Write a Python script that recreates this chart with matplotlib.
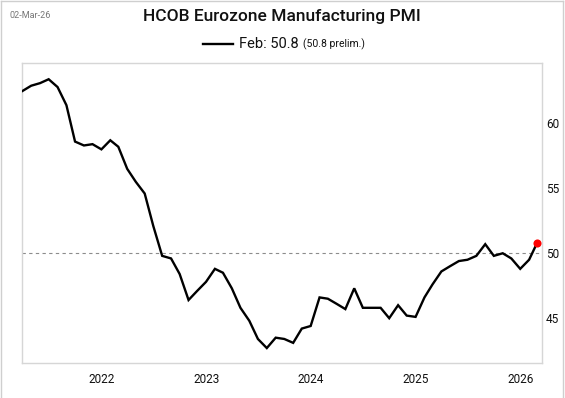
import numpy as np
import pandas as pd
import matplotlib
matplotlib.use("Agg")
from matplotlib import pyplot as plt
from matplotlib.lines import Line2D
import matplotlib.dates as mdates

# monthly PMI, Mar 2021 .. Feb 2026
pmi = [62.5, 62.9, 63.1, 63.4, 62.8, 61.4, 58.6, 58.3, 58.4, 58.0,
       58.7, 58.2, 56.5, 55.5, 54.6, 52.1, 49.8, 49.6, 48.4, 46.4, 47.1, 47.8,
       48.8, 48.5, 47.3, 45.8, 44.8, 43.4, 42.7, 43.5, 43.4, 43.1, 44.2, 44.4,
       46.6, 46.5, 46.1, 45.7, 47.3, 45.8, 45.8, 45.8, 45.0, 46.0, 45.2, 45.1,
       46.6, 47.6, 48.6, 49.0, 49.4, 49.5, 49.8, 50.7, 49.8, 50.0, 49.6, 48.8,
       49.5, 50.8]
dates = pd.date_range("2021-03-31", periods=len(pmi), freq="ME")
years = [2022, 2023, 2024, 2025, 2026]
yticks = [45, 50, 55, 60]
title = "HCOB Eurozone Manufacturing PMI"
stamp = "02-Mar-26"
prelim = 50.8

plt.rcParams['font.family'] = ['Roboto', 'DejaVu Sans']

fig = plt.figure(figsize=(5.65, 3.98), dpi=100)
ax = fig.add_axes([22/565, 35/398, 520/565, 300/398])

ax.plot(dates, pmi, color='black', lw=1.7, solid_joinstyle='miter', zorder=3)
ax.scatter([dates[-1]], [pmi[-1]], s=34, color='#ff0000', zorder=4, linewidths=0)
ax.axhline(50, color='#8c8c8c', lw=0.8, ls=(0, (3, 3)), zorder=1)

ax.set_xlim(pd.Timestamp("2021-03-29"), pd.Timestamp("2026-03-17"))
ax.set_ylim(41.55, 64.65)
ax.set_xticks([pd.Timestamp(f"{y}-01-01") for y in years])
ax.xaxis.set_major_formatter(mdates.DateFormatter("%Y"))
ax.set_yticks(yticks)
ax.yaxis.tick_right()
ax.tick_params(axis='both', length=0, labelsize=8.5, colors='#111111')
ax.tick_params(axis='x', pad=7)
ax.tick_params(axis='y', pad=3)
for s in ax.spines.values():
    s.set_color('#d6d6d6')
    s.set_linewidth(1.0)

# header
fig.text(282/565, 1 - 16/398, title, ha='center', va='center',
         fontsize=12.5, fontweight='medium', color='#111111')
fig.text(10/565, 1 - 15/398, stamp, ha='left', va='center', fontsize=6.5, color='#777777')

# legend
fig.add_artist(Line2D([203/565, 233/565], [1 - 44/398, 1 - 44/398],
                      color='black', lw=1.7, transform=fig.transFigure))
fig.text(239/565, 1 - 44/398, f"{dates[-1].strftime('%b')}: {pmi[-1]}",
         ha='left', va='center', fontsize=10.5, color='#111111')
fig.text(303/565, 1 - 44.5/398, f"({prelim} prelim.)", ha='left', va='center',
         fontsize=7.5, color='#111111')

# outer frame: left, top, right only
frame = dict(color='#cfcfcf', lw=1.0, transform=fig.transFigure)
fig.add_artist(Line2D([0.5/565, 0.5/565], [0, 1 - 0.5/398], **frame))
fig.add_artist(Line2D([0.5/565, 563/565], [1 - 0.5/398, 1 - 0.5/398], **frame))
fig.add_artist(Line2D([563/565, 563/565], [0, 1 - 0.5/398], **frame))

fig.savefig("out.png", dpi=100)
